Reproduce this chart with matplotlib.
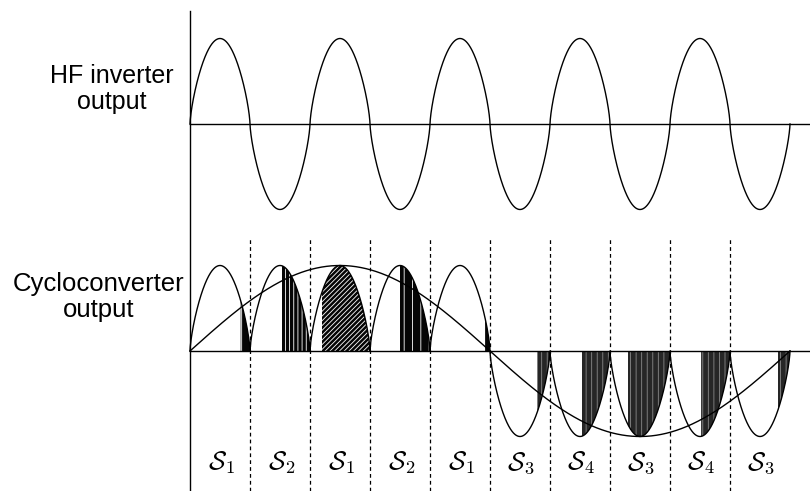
import numpy as np
import matplotlib.pyplot as plt

plt.rcParams['mathtext.fontset'] = 'cm'
plt.rcParams['hatch.linewidth'] = 0.6

# x measured in HF half-periods, y in HF amplitudes
n_half = 10
top_offset = 2.655
shape_power = 0.7           # HF lobes are drawn a bit rounder than a pure sine
segments = np.arange(1, n_half)                       # dashed divider positions
shade_start = [0.845, 1.533, 2.2, 3.5, 4.917, 5.79, 6.533, 7.3, 8.517, 9.8]
shade_hatch = ['|', '||||', '///////', '||', '|',
               '|||', '|||', '|||', '|||', '|||']
switch_labels = ['1', '2', '1', '2', '1', '3', '4', '3', '4', '3']
px = 60.0   # pixels per half-period (for limits only)


def rounded(s):
    return np.sign(s) * np.abs(s) ** shape_power


x = np.linspace(0, n_half, 6001)
hf = rounded(np.sin(np.pi * x))
env = np.sin(np.pi * x / 5)
cyclo = np.where(x < 5, np.abs(hf), -np.abs(hf))

fig = plt.figure(figsize=(8.1, 4.91), dpi=100)
ax = fig.add_axes([0, 0, 1, 1])
ax.set_xlim(-190 / px, 620 / px)
ax.set_ylim(-140 / 85.5, 351 / 85.5)
ax.axis('off')

# axes lines
ax.plot([0, 0], [-140 / 85.5, 340 / 85.5], color='black', lw=1.0)
ax.plot([0, 620 / px], [top_offset, top_offset], color='black', lw=1.0)
ax.plot([0, 620 / px], [0, 0], color='black', lw=1.0)

# HF inverter output
ax.plot(x, hf + top_offset, color='black', lw=1.0)

# shaded portions
for k in range(n_half):
    m = (x >= shade_start[k]) & (x <= k + 1)
    h = shade_hatch[k]
    fc = '#050505' if k < 5 else '#262626'
    ec = '#ffffff' if k < 5 else '#8a8a8a'
    ax.fill_between(x[m], 0, cyclo[m], facecolor=fc, edgecolor=ec,
                    hatch=h, linewidth=0)

# cycloconverter output and envelope
ax.plot(x, cyclo, color='black', lw=1.0)
ax.plot(x, env, color='black', lw=1.0)

for s in segments:
    ax.plot([s, s], [-140 / 85.5, 114 / 85.5], color='black', lw=0.9,
            linestyle=(0, (3, 2.5)))

for k, lab in enumerate(switch_labels):
    ax.text(k + 0.52, -112 / 85.5, r'$\mathcal{S}_{\mathsf{' + lab + '}}$',
            fontsize=19, ha='center', va='center')

ax.text(-78 / px, (351 - 89) / 85.5, 'HF inverter\noutput', fontsize=18,
        family='Liberation Sans', ha='center', va='center', linespacing=1.15)
ax.text(-91 / px, (351 - 297) / 85.5, 'Cycloconverter\noutput', fontsize=18.5,
        family='Liberation Sans', ha='center', va='center', linespacing=1.15)

fig.savefig('out.png', dpi=100)
